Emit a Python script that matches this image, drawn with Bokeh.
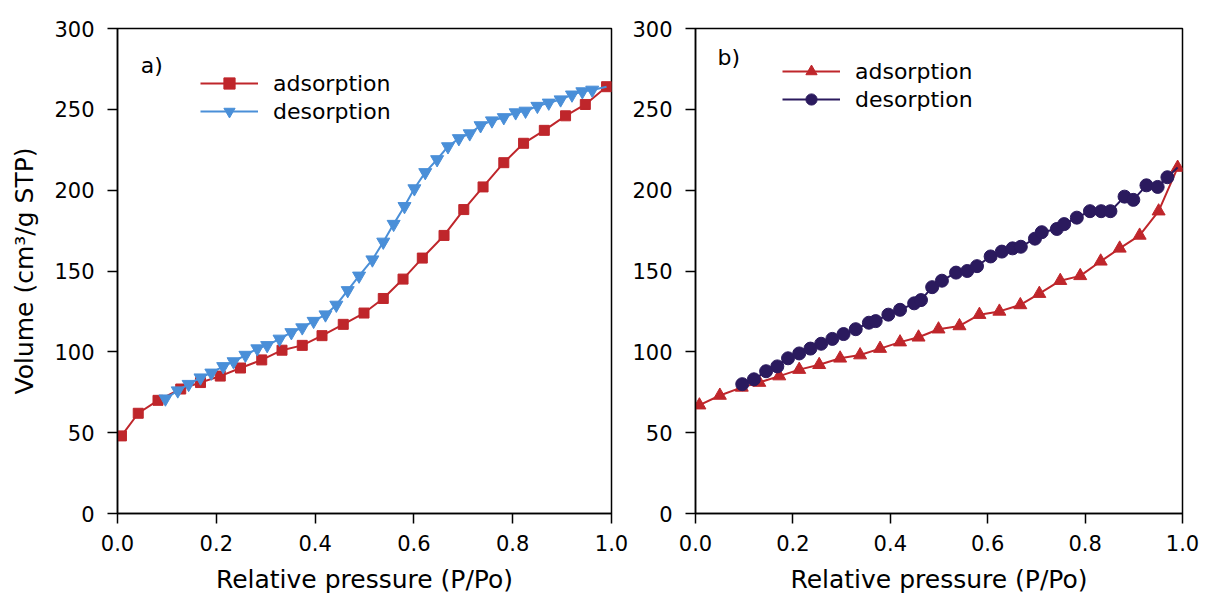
from bokeh.plotting import figure
from bokeh.layouts import row
from bokeh.models import Range1d, FixedTicker, Legend, LegendItem, Label, NumeralTickFormatter
from bokeh.embed import file_html
from bokeh.resources import INLINE

# ---------------- data ----------------
x_ticks = [0.0, 0.2, 0.4, 0.6, 0.8, 1.0]
y_ticks = [0, 50, 100, 150, 200, 250, 300]
x_label = "Relative pressure (P/Po)"
y_label = "Volume (cm³/g STP)"

a_ads_x = [0.008, 0.042, 0.082, 0.128, 0.168, 0.208, 0.249, 0.292, 0.333, 0.374, 0.414, 0.457, 0.499,
           0.538, 0.578, 0.617, 0.661, 0.701, 0.740, 0.782, 0.822, 0.864, 0.907, 0.947, 0.990]
a_ads_y = [48, 62, 70, 77, 81, 85, 90, 95, 101, 104, 110, 117, 124,
           133, 145, 158, 172, 188, 202, 217, 229, 237, 246, 253, 264]

a_des_x = [0.097, 0.122, 0.144, 0.168, 0.190, 0.214, 0.235, 0.259, 0.283, 0.303, 0.328, 0.352, 0.374,
           0.397, 0.421, 0.443, 0.466, 0.489, 0.516, 0.538, 0.559, 0.581, 0.601, 0.623, 0.647, 0.669,
           0.691, 0.713, 0.735, 0.758, 0.782, 0.806, 0.826, 0.850, 0.873, 0.897, 0.920, 0.941, 0.961]
a_des_y = [71, 76, 80, 84, 87, 91, 94, 98, 102, 104, 108, 112, 115,
           119, 123, 129, 138, 147, 157, 168, 179, 190, 201, 211, 219, 227,
           232, 235, 240, 243, 245, 248, 249, 252, 254, 256, 259, 261, 262]

b_ads_x = [0.008, 0.050, 0.095, 0.131, 0.172, 0.213, 0.254, 0.297, 0.338, 0.379, 0.420, 0.458, 0.499,
           0.542, 0.583, 0.624, 0.667, 0.706, 0.749, 0.790, 0.832, 0.871, 0.912, 0.951, 0.990]
b_ads_y = [67, 73, 78, 81, 85, 89, 92, 96, 98, 102, 106, 109, 114,
           116, 123, 125, 129, 136, 144, 147, 156, 164, 172, 187, 214]

b_des_x = [0.096, 0.120, 0.145, 0.168, 0.190, 0.213, 0.236, 0.258, 0.281, 0.304, 0.329, 0.356, 0.370,
           0.396, 0.420, 0.449, 0.463, 0.486, 0.506, 0.535, 0.558, 0.578, 0.606, 0.629, 0.651, 0.668,
           0.697, 0.711, 0.742, 0.757, 0.783, 0.810, 0.833, 0.852, 0.881, 0.899, 0.926, 0.949, 0.969]
b_des_y = [80, 83, 88, 91, 96, 99, 102, 105, 108, 111, 114, 118, 119,
           123, 126, 130, 132, 140, 144, 149, 150, 153, 159, 162, 164, 165,
           170, 174, 176, 179, 183, 187, 187, 187, 196, 194, 203, 202, 208]

series_names = ["adsorption", "desorption"]

# ---------------- style ----------------
FONT = "DejaVu Sans"
RED = "#bf262b"
BLUE = "#4a8fd8"
NAVY = "#2b1a5e"


def make_fig(width, height, bl, br, bt, bb, ylab):
    p = figure(width=width, height=height, x_range=Range1d(0, 1), y_range=Range1d(0, 300),
               output_backend="svg", toolbar_location=None,
               min_border_left=bl, min_border_right=br, min_border_top=bt, min_border_bottom=bb)
    p.grid.visible = False
    p.outline_line_color = "black"
    p.outline_line_width = 1.5
    p.background_fill_color = "white"
    p.border_fill_color = "white"
    for ax in (p.xaxis, p.yaxis):
        ax.axis_line_width = 1.5
        ax.major_tick_line_width = 1.5
        ax.major_tick_out = 10
        ax.major_tick_in = 0
        ax.minor_tick_line_color = None
        ax.major_label_text_font = FONT
        ax.major_label_text_font_size = "21px"
        ax.major_label_text_color = "black"
        ax.axis_label_text_font = FONT
        ax.axis_label_text_font_size = "25px"
        ax.axis_label_text_font_style = "normal"
        ax.axis_label_text_color = "black"
    p.xaxis.ticker = FixedTicker(ticks=x_ticks)
    p.yaxis.ticker = FixedTicker(ticks=y_ticks)
    p.xaxis.formatter = NumeralTickFormatter(format="0.0")
    p.yaxis.formatter = NumeralTickFormatter(format="0")
    p.xaxis.major_label_standoff = 11
    p.yaxis.major_label_standoff = 13
    p.xaxis.axis_label = x_label
    p.xaxis.axis_label_standoff = 11
    if ylab:
        p.yaxis.axis_label = ylab
        p.yaxis.axis_label_standoff = 12
    return p


def make_legend(r_ads, r_des, loc):
    return Legend(items=[LegendItem(label=series_names[0], renderers=r_ads),
                         LegendItem(label=series_names[1], renderers=r_des)],
                  location=loc, glyph_width=58, glyph_height=28, label_height=28,
                  label_standoff=15, padding=0, margin=0, spacing=0,
                  border_line_color=None, background_fill_alpha=0,
                  label_text_font=FONT, label_text_font_size="22px", label_text_color="black")


# ---------------- panel a ----------------
p1 = make_fig(629, 600, 117, 18, 28, 87, y_label)
l1 = p1.line(a_ads_x, a_ads_y, line_color=RED, line_width=2)
s1 = p1.scatter(a_ads_x, a_ads_y, marker="square", size=10, fill_color=RED, line_color=RED)
l2 = p1.line(a_des_x + [a_ads_x[-1]], a_des_y + [a_ads_y[-1]], line_color=BLUE, line_width=2)
s2 = p1.scatter(a_des_x, a_des_y, marker="inverted_triangle", size=13, fill_color=BLUE, line_color=BLUE)
p1.add_layout(make_legend([l1, s1], [l2, s2], (83, 388)))
p1.add_layout(Label(x=0.047, y=277, text="a)", text_font=FONT, text_font_size="22px",
                    text_baseline="middle", text_color="black"))

# ---------------- panel b ----------------
p2 = make_fig(586, 600, 64, 33, 25, 87, None)
l3 = p2.line(b_ads_x, b_ads_y, line_color=RED, line_width=2)
s3 = p2.scatter(b_ads_x, b_ads_y, marker="triangle", size=13, fill_color=RED, line_color=RED)
l4 = p2.line(b_des_x + [b_ads_x[-1]], b_des_y + [b_ads_y[-1]], line_color=NAVY, line_width=2)
s4 = p2.scatter(b_des_x, b_des_y, marker="circle", size=13, fill_color=NAVY, line_color=NAVY)
p2.add_layout(make_legend([l3, s3], [l4, s4], (87, 400)))
p2.add_layout(Label(x=0.045, y=282, text="b)", text_font=FONT, text_font_size="22px",
                    text_baseline="middle", text_color="black"))

layout = row(p1, p2, spacing=0)
open("out.html", "w").write(file_html(layout, INLINE))
